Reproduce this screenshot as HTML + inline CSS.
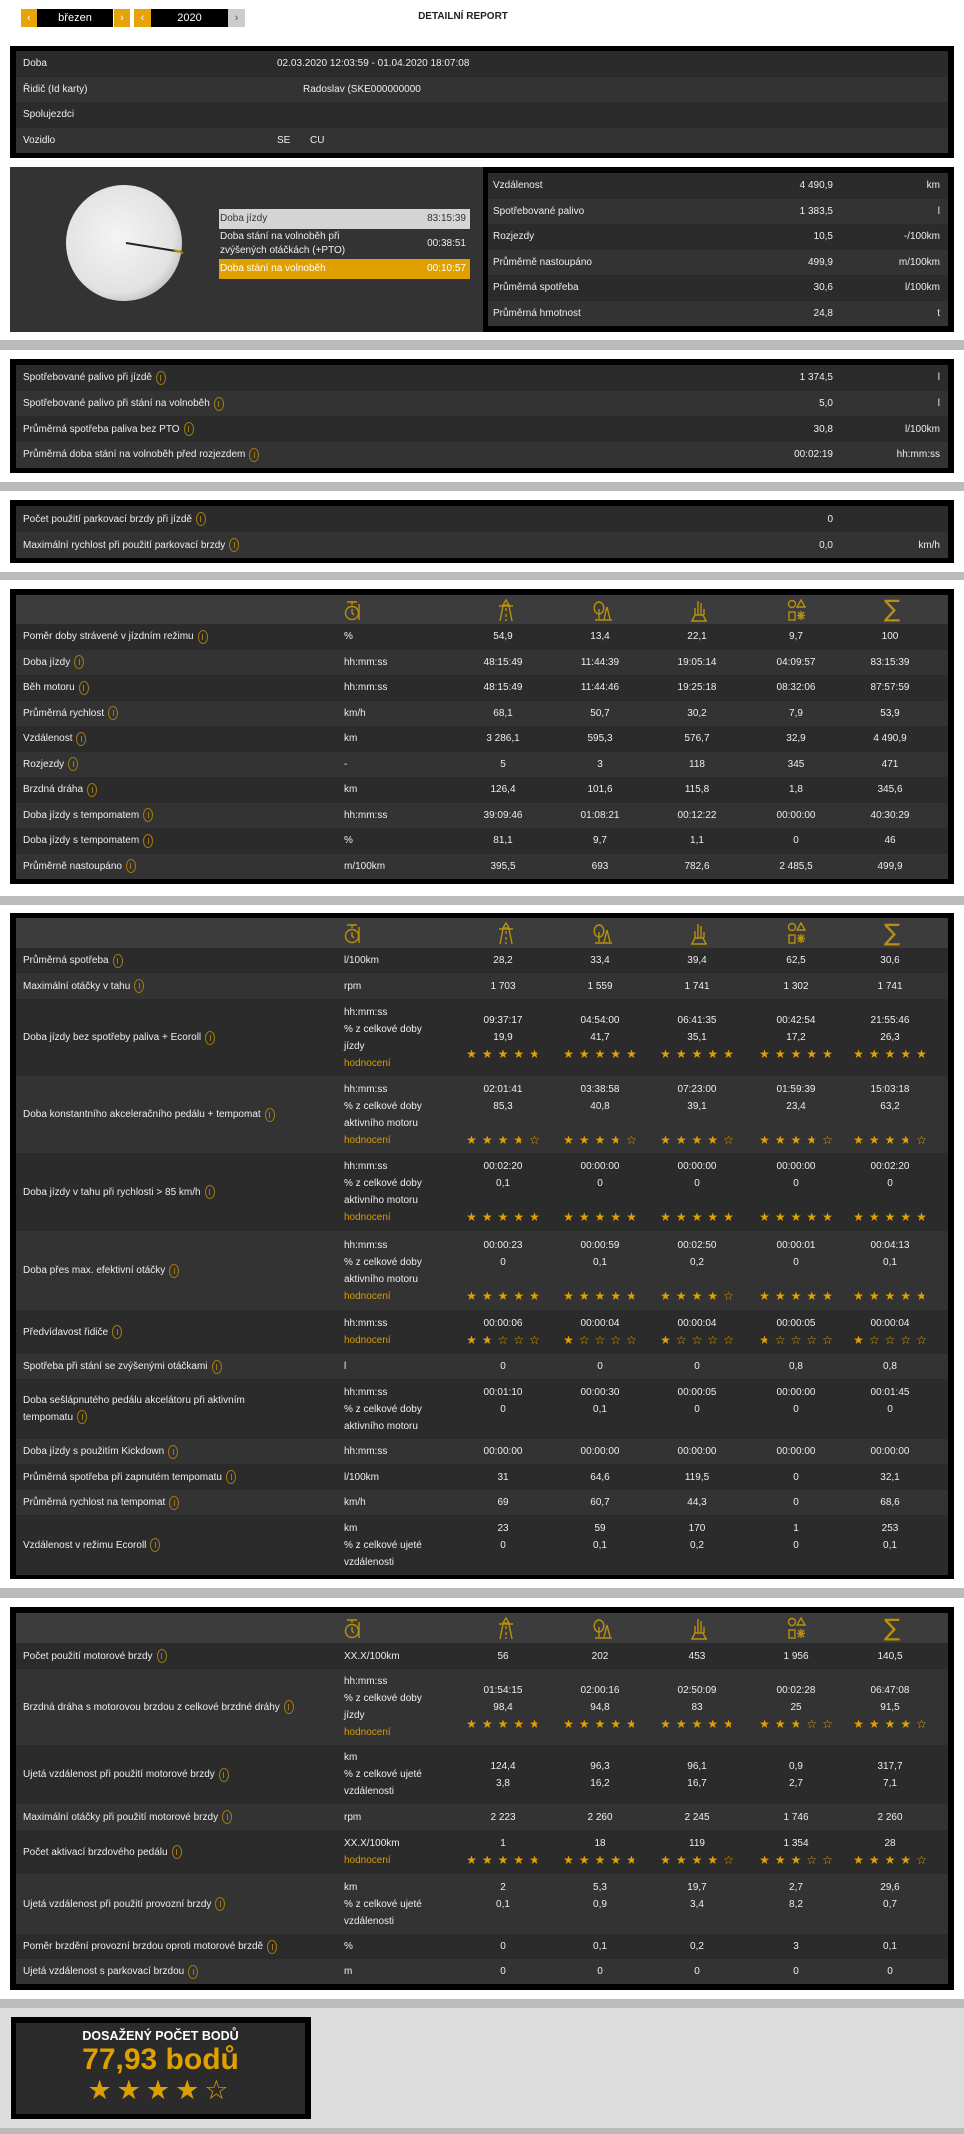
<!DOCTYPE html>
<html><head><meta charset="utf-8">
<style>
body{margin:0;width:964px;height:2134px;position:relative;background:#fff;font-family:"Liberation Sans",sans-serif;font-size:10px;color:#eee;overflow:hidden}
.band{position:absolute;left:0;width:964px;background:#bbb}
.box{position:absolute;left:10px;width:944px;background:#000}
.rows{position:absolute;left:6px;width:932px}
.r{position:relative;background:#2b2b2b;height:25.5px}
.b{background:#333}
.hd{background:#3c3c3c;height:30px}
.c{position:absolute;top:0;bottom:0;display:flex;flex-direction:column;justify-content:center;line-height:17px;white-space:nowrap}
.l{left:7px;flex-direction:row;align-items:center;justify-content:flex-start}
.u{left:328px}
.v{width:90px;align-items:center;text-align:center}
.v1{left:442px}.v2{left:539px}.v3{left:636px}.v4{left:735px}.v5{left:829px}
.rv{right:115px;align-items:flex-end}
.ru{right:8px;align-items:flex-end}
.i{display:inline-block;flex:none;width:8px;height:12px;border:1px solid #a07a10;border-radius:50%;margin-left:4px;vertical-align:middle;position:relative}
.i:after{content:"";position:absolute;left:3.5px;top:3px;width:1px;height:6px;background:#a07a10}
.o{color:#d89c00}
.st{color:#e0a000;font-size:12px;letter-spacing:5px;margin-right:-5px;font-family:"DejaVu Sans",sans-serif}
.h{background:linear-gradient(90deg,#e0a000 50%,#6b5520 50%);-webkit-background-clip:text;background-clip:text;color:transparent}
.ic{position:absolute;top:4px;width:20px;height:24px}
.sel{position:absolute;top:9px;height:18px;line-height:18px;text-align:center;color:#fff;font-size:11px}
</style></head><body>

<div class="sel" style="left:21px;width:16px;background:#e5a50a">‹</div>
<div class="sel" style="left:37px;width:76px;background:#000">březen</div>
<div class="sel" style="left:114px;width:16px;background:#e5a50a">›</div>
<div class="sel" style="left:134px;width:17px;background:#e5a50a">‹</div>
<div class="sel" style="left:151px;width:77px;background:#000">2020</div>
<div class="sel" style="left:228px;width:17px;background:#ccc;color:#555">›</div>
<div style="position:absolute;left:380px;width:166px;top:11px;text-align:center;color:#222;font-weight:bold;font-size:10px">DETAILNÍ REPORT</div>

<div class="box" style="top:46px;height:112px">
 <div class="rows" style="top:5px">
  <div class="r"><div class="c l">Doba</div><div class="c" style="left:261px">02.03.2020 12:03:59 - 01.04.2020 18:07:08</div></div>
  <div class="r b"><div class="c l">Řidič (Id karty)</div><div class="c" style="left:287px">Radoslav (SKE000000000</div></div>
  <div class="r"><div class="c l">Spolujezdci</div></div>
  <div class="r b"><div class="c l">Vozidlo</div><div class="c" style="left:261px">SE</div><div class="c" style="left:294px">CU</div></div>
 </div>
</div>

<div class="box" style="top:167px;height:165px;background:#000">
 <div style="position:absolute;left:0;top:0;width:473px;height:165px;background:#333">
  <svg style="position:absolute;left:54px;top:16px" width="130" height="130">
   <defs><radialGradient id="g" cx="45%" cy="45%" r="60%"><stop offset="0" stop-color="#f4f4f4"/><stop offset="0.8" stop-color="#e2e2e2"/><stop offset="1" stop-color="#bdbdbd"/></radialGradient></defs>
   <circle cx="60" cy="60" r="58" fill="url(#g)"/>
   <line x1="62" y1="60" x2="118" y2="69" stroke="#222" stroke-width="2"/>
   <line x1="110" y1="67" x2="119" y2="70" stroke="#c08a00" stroke-width="2"/>
  </svg>
  <div style="position:absolute;left:209px;top:42px;width:251px;height:20px;background:#d4d4d4;color:#333"><span style="position:absolute;left:1px;top:4px">Doba jízdy</span><span style="position:absolute;right:4px;top:4px">83:15:39</span></div>
  <div style="position:absolute;left:209px;top:62px;width:251px;height:30px;color:#eee;line-height:14px"><span style="position:absolute;left:1px;top:1px">Doba stání na volnoběh při<br>zvýšených otáčkách (+PTO)</span><span style="position:absolute;right:4px;top:8px">00:38:51</span></div>
  <div style="position:absolute;left:209px;top:92px;width:251px;height:20px;background:#e0a100;color:#fff"><span style="position:absolute;left:1px;top:4px">Doba stání na volnoběh</span><span style="position:absolute;right:4px;top:4px">00:10:57</span></div>
 </div>
 <div class="rows" style="left:478px;width:460px;top:6px">
  <div class="r"><div class="c l" style="left:5px">Vzdálenost</div><div class="c rv">4 490,9</div><div class="c ru">km</div></div>
  <div class="r b"><div class="c l" style="left:5px">Spotřebované palivo</div><div class="c rv">1 383,5</div><div class="c ru">l</div></div>
  <div class="r"><div class="c l" style="left:5px">Rozjezdy</div><div class="c rv">10,5</div><div class="c ru">-/100km</div></div>
  <div class="r b"><div class="c l" style="left:5px">Průměrně nastoupáno</div><div class="c rv">499,9</div><div class="c ru">m/100km</div></div>
  <div class="r"><div class="c l" style="left:5px">Průměrná spotřeba</div><div class="c rv">30,6</div><div class="c ru">l/100km</div></div>
  <div class="r b"><div class="c l" style="left:5px">Průměrná hmotnost</div><div class="c rv">24,8</div><div class="c ru">t</div></div>
 </div>
</div>

<div class="band" style="top:340px;height:10px"></div>

<div class="box" style="top:359px;height:114px">
 <div class="rows" style="top:6px">
  <div class="r" style="height:25.7px"><div class="c l">Spotřebované palivo při jízdě<span class="i"></span></div><div class="c rv">1 374,5</div><div class="c ru">l</div></div>
  <div class="r b" style="height:25.7px"><div class="c l">Spotřebované palivo při stání na volnoběh<span class="i"></span></div><div class="c rv">5,0</div><div class="c ru">l</div></div>
  <div class="r" style="height:25.7px"><div class="c l">Průměrná spotřeba paliva bez PTO<span class="i"></span></div><div class="c rv">30,8</div><div class="c ru">l/100km</div></div>
  <div class="r b" style="height:25.7px"><div class="c l">Průměrná doba stání na volnoběh před rozjezdem<span class="i"></span></div><div class="c rv">00:02:19</div><div class="c ru">hh:mm:ss</div></div>
 </div>
</div>

<div class="band" style="top:482px;height:9px"></div>

<div class="box" style="top:500px;height:63px">
 <div class="rows" style="top:6px">
  <div class="r" style="height:26px"><div class="c l">Počet použití parkovací brzdy při jízdě<span class="i"></span></div><div class="c rv">0</div></div>
  <div class="r b" style="height:26px"><div class="c l">Maximální rychlost při použití parkovací brzdy<span class="i"></span></div><div class="c rv">0,0</div><div class="c ru">km/h</div></div>
 </div>
</div>

<div class="band" style="top:572px;height:8px"></div>

<div class="box" style="top:589px;height:295px">
 <div class="rows" style="top:6px">
  <div class="r hd" style="height:29px">
   <svg class="ic" style="left:327px" viewBox="0 0 20 24" fill="none" stroke="#b8900e" stroke-width="1.4"><path d="M4 3h10M9 3v3M16 5v16"/><circle cx="9" cy="14" r="6.5"/><path d="M9 10v4l2 2"/></svg>
   <svg class="ic" style="left:480px" viewBox="0 0 20 24" fill="none" stroke="#b8900e" stroke-width="1.4"><path d="M10 1l-3 5h6z M3 7h14 M7 7L4 22 M13 7l3 15 M10 9v3 M10 15v3 M10 20v2"/></svg>
   <svg class="ic" style="left:577px" viewBox="0 0 20 24" fill="none" stroke="#b8900e" stroke-width="1.4"><path d="M6 3a4 5 0 0 1 0 12a4 5 0 0 1 0-12z M6 10v10 M11 20l3-12 3 12 M2 21h17"/></svg>
   <svg class="ic" style="left:673px" viewBox="0 0 20 24" fill="none" stroke="#b8900e" stroke-width="1.4"><path d="M9 2v14 M12 4v12 M6 9v7 M15 10v6 M3 22l3-6h8l3 6 M2 22h16"/></svg>
   <svg class="ic" style="left:771px" viewBox="0 0 20 24" fill="none" stroke="#b8900e" stroke-width="1.4"><circle cx="5" cy="5" r="3.5"/><path d="M14 1l4 7h-8z"/><rect x="2" y="13" width="6" height="8"/><path d="M14 12v9 M10 16.5h8 M11 13l6 7 M17 13l-6 7"/></svg>
   <div class="c" style="left:868px;font-size:24px;color:#b8900e;font-family:'DejaVu Sans',sans-serif">∑</div>
  </div>
  <div class="r"><div class="c l">Poměr doby strávené v jízdním režimu<span class="i"></span></div><div class="c u">%</div><div class="c v v1">54,9</div><div class="c v v2">13,4</div><div class="c v v3">22,1</div><div class="c v v4">9,7</div><div class="c v v5">100</div></div>
  <div class="r b"><div class="c l">Doba jízdy<span class="i"></span></div><div class="c u">hh:mm:ss</div><div class="c v v1">48:15:49</div><div class="c v v2">11:44:39</div><div class="c v v3">19:05:14</div><div class="c v v4">04:09:57</div><div class="c v v5">83:15:39</div></div>
  <div class="r"><div class="c l">Běh motoru<span class="i"></span></div><div class="c u">hh:mm:ss</div><div class="c v v1">48:15:49</div><div class="c v v2">11:44:46</div><div class="c v v3">19:25:18</div><div class="c v v4">08:32:06</div><div class="c v v5">87:57:59</div></div>
  <div class="r b"><div class="c l">Průměrná rychlost<span class="i"></span></div><div class="c u">km/h</div><div class="c v v1">68,1</div><div class="c v v2">50,7</div><div class="c v v3">30,2</div><div class="c v v4">7,9</div><div class="c v v5">53,9</div></div>
  <div class="r"><div class="c l">Vzdálenost<span class="i"></span></div><div class="c u">km</div><div class="c v v1">3 286,1</div><div class="c v v2">595,3</div><div class="c v v3">576,7</div><div class="c v v4">32,9</div><div class="c v v5">4 490,9</div></div>
  <div class="r b"><div class="c l">Rozjezdy<span class="i"></span></div><div class="c u">-</div><div class="c v v1">5</div><div class="c v v2">3</div><div class="c v v3">118</div><div class="c v v4">345</div><div class="c v v5">471</div></div>
  <div class="r"><div class="c l">Brzdná dráha<span class="i"></span></div><div class="c u">km</div><div class="c v v1">126,4</div><div class="c v v2">101,6</div><div class="c v v3">115,8</div><div class="c v v4">1,8</div><div class="c v v5">345,6</div></div>
  <div class="r b"><div class="c l">Doba jízdy s tempomatem<span class="i"></span></div><div class="c u">hh:mm:ss</div><div class="c v v1">39:09:46</div><div class="c v v2">01:08:21</div><div class="c v v3">00:12:22</div><div class="c v v4">00:00:00</div><div class="c v v5">40:30:29</div></div>
  <div class="r"><div class="c l">Doba jízdy s tempomatem<span class="i"></span></div><div class="c u">%</div><div class="c v v1">81,1</div><div class="c v v2">9,7</div><div class="c v v3">1,1</div><div class="c v v4">0</div><div class="c v v5">46</div></div>
  <div class="r b"><div class="c l">Průměrně nastoupáno<span class="i"></span></div><div class="c u">m/100km</div><div class="c v v1">395,5</div><div class="c v v2">693</div><div class="c v v3">782,6</div><div class="c v v4">2 485,5</div><div class="c v v5">499,9</div></div>
 </div>
</div>

<div class="band" style="top:896px;height:9px"></div>

<div class="box" style="top:913px;height:666px">
 <div class="rows" style="top:5px">
  <div class="r hd">
   <svg class="ic" style="left:327px" viewBox="0 0 20 24" fill="none" stroke="#b8900e" stroke-width="1.4"><path d="M4 3h10M9 3v3M16 5v16"/><circle cx="9" cy="14" r="6.5"/><path d="M9 10v4l2 2"/></svg>
   <svg class="ic" style="left:480px" viewBox="0 0 20 24" fill="none" stroke="#b8900e" stroke-width="1.4"><path d="M10 1l-3 5h6z M3 7h14 M7 7L4 22 M13 7l3 15 M10 9v3 M10 15v3 M10 20v2"/></svg>
   <svg class="ic" style="left:577px" viewBox="0 0 20 24" fill="none" stroke="#b8900e" stroke-width="1.4"><path d="M6 3a4 5 0 0 1 0 12a4 5 0 0 1 0-12z M6 10v10 M11 20l3-12 3 12 M2 21h17"/></svg>
   <svg class="ic" style="left:673px" viewBox="0 0 20 24" fill="none" stroke="#b8900e" stroke-width="1.4"><path d="M9 2v14 M12 4v12 M6 9v7 M15 10v6 M3 22l3-6h8l3 6 M2 22h16"/></svg>
   <svg class="ic" style="left:771px" viewBox="0 0 20 24" fill="none" stroke="#b8900e" stroke-width="1.4"><circle cx="5" cy="5" r="3.5"/><path d="M14 1l4 7h-8z"/><rect x="2" y="13" width="6" height="8"/><path d="M14 12v9 M10 16.5h8 M11 13l6 7 M17 13l-6 7"/></svg>
   <div class="c" style="left:868px;font-size:24px;color:#b8900e;font-family:'DejaVu Sans',sans-serif">∑</div>
  </div>
  <div class="r" style="height:25px"><div class="c l">Průměrná spotřeba<span class="i"></span></div><div class="c u">l/100km</div><div class="c v v1">28,2</div><div class="c v v2">33,4</div><div class="c v v3">39,4</div><div class="c v v4">62,5</div><div class="c v v5">30,6</div></div>
  <div class="r b" style="height:26px"><div class="c l">Maximální otáčky v tahu<span class="i"></span></div><div class="c u">rpm</div><div class="c v v1">1 703</div><div class="c v v2">1 559</div><div class="c v v3">1 741</div><div class="c v v4">1 302</div><div class="c v v5">1 741</div></div>
  <div class="r" style="height:77px"><div class="c l">Doba jízdy bez spotřeby paliva + Ecoroll<span class="i"></span></div><div class="c u"><div>hh:mm:ss</div><div>% z celkové doby</div><div>jízdy</div><div class="o">hodnocení</div></div>
   <div class="c v v1"><div>09:37:17</div><div>19,9</div><div class="st">★★★★<span class="h">★</span></div></div>
   <div class="c v v2"><div>04:54:00</div><div>41,7</div><div class="st">★★★★★</div></div>
   <div class="c v v3"><div>06:41:35</div><div>35,1</div><div class="st">★★★★★</div></div>
   <div class="c v v4"><div>00:42:54</div><div>17,2</div><div class="st">★★★★★</div></div>
   <div class="c v v5"><div>21:55:46</div><div>26,3</div><div class="st">★★★★★</div></div></div>
  <div class="r b" style="height:77px"><div class="c l">Doba konstantního akceleračního pedálu + tempomat<span class="i"></span></div><div class="c u"><div>hh:mm:ss</div><div>% z celkové doby</div><div>aktivního motoru</div><div class="o">hodnocení</div></div>
   <div class="c v v1"><div>02:01:41</div><div>85,3</div><div>&nbsp;</div><div class="st">★★★<span class="h">★</span>☆</div></div>
   <div class="c v v2"><div>03:38:58</div><div>40,8</div><div>&nbsp;</div><div class="st">★★★<span class="h">★</span>☆</div></div>
   <div class="c v v3"><div>07:23:00</div><div>39,1</div><div>&nbsp;</div><div class="st">★★★★☆</div></div>
   <div class="c v v4"><div>01:59:39</div><div>23,4</div><div>&nbsp;</div><div class="st">★★★<span class="h">★</span>☆</div></div>
   <div class="c v v5"><div>15:03:18</div><div>63,2</div><div>&nbsp;</div><div class="st">★★★<span class="h">★</span>☆</div></div></div>
  <div class="r" style="height:78px"><div class="c l">Doba jízdy v tahu při rychlosti &gt; 85 km/h<span class="i"></span></div><div class="c u"><div>hh:mm:ss</div><div>% z celkové doby</div><div>aktivního motoru</div><div class="o">hodnocení</div></div>
   <div class="c v v1"><div>00:02:20</div><div>0,1</div><div>&nbsp;</div><div class="st">★★★★★</div></div>
   <div class="c v v2"><div>00:00:00</div><div>0</div><div>&nbsp;</div><div class="st">★★★★★</div></div>
   <div class="c v v3"><div>00:00:00</div><div>0</div><div>&nbsp;</div><div class="st">★★★★★</div></div>
   <div class="c v v4"><div>00:00:00</div><div>0</div><div>&nbsp;</div><div class="st">★★★★★</div></div>
   <div class="c v v5"><div>00:02:20</div><div>0</div><div>&nbsp;</div><div class="st">★★★★★</div></div></div>
  <div class="r b" style="height:79px"><div class="c l">Doba přes max. efektivní otáčky<span class="i"></span></div><div class="c u"><div>hh:mm:ss</div><div>% z celkové doby</div><div>aktivního motoru</div><div class="o">hodnocení</div></div>
   <div class="c v v1"><div>00:00:23</div><div>0</div><div>&nbsp;</div><div class="st">★★★★★</div></div>
   <div class="c v v2"><div>00:00:59</div><div>0,1</div><div>&nbsp;</div><div class="st">★★★★<span class="h">★</span></div></div>
   <div class="c v v3"><div>00:02:50</div><div>0,2</div><div>&nbsp;</div><div class="st">★★★★☆</div></div>
   <div class="c v v4"><div>00:00:01</div><div>0</div><div>&nbsp;</div><div class="st">★★★★★</div></div>
   <div class="c v v5"><div>00:04:13</div><div>0,1</div><div>&nbsp;</div><div class="st">★★★★<span class="h">★</span></div></div></div>
  <div class="r" style="height:44px"><div class="c l">Předvídavost řidiče<span class="i"></span></div><div class="c u"><div>hh:mm:ss</div><div class="o">hodnocení</div></div>
   <div class="c v v1"><div>00:00:06</div><div class="st">★<span class="h">★</span>☆☆☆</div></div>
   <div class="c v v2"><div>00:00:04</div><div class="st">★☆☆☆☆</div></div>
   <div class="c v v3"><div>00:00:04</div><div class="st">★☆☆☆☆</div></div>
   <div class="c v v4"><div>00:00:05</div><div class="st"><span class="h">★</span>☆☆☆☆</div></div>
   <div class="c v v5"><div>00:00:04</div><div class="st">★☆☆☆☆</div></div></div>
  <div class="r b" style="height:25px"><div class="c l">Spotřeba při stání se zvýšenými otáčkami<span class="i"></span></div><div class="c u">l</div><div class="c v v1">0</div><div class="c v v2">0</div><div class="c v v3">0</div><div class="c v v4">0,8</div><div class="c v v5">0,8</div></div>
  <div class="r" style="height:60px"><div class="c l"><div><div>Doba sešlápnutého pedálu akcelátoru při aktivním</div><div>tempomatu<span class="i"></span></div></div></div><div class="c u"><div>hh:mm:ss</div><div>% z celkové doby</div><div>aktivního motoru</div></div>
   <div class="c v v1"><div>00:01:10</div><div>0</div><div>&nbsp;</div></div>
   <div class="c v v2"><div>00:00:30</div><div>0,1</div><div>&nbsp;</div></div>
   <div class="c v v3"><div>00:00:05</div><div>0</div><div>&nbsp;</div></div>
   <div class="c v v4"><div>00:00:00</div><div>0</div><div>&nbsp;</div></div>
   <div class="c v v5"><div>00:01:45</div><div>0</div><div>&nbsp;</div></div></div>
  <div class="r b" style="height:25px"><div class="c l">Doba jízdy s použitím Kickdown<span class="i"></span></div><div class="c u">hh:mm:ss</div><div class="c v v1">00:00:00</div><div class="c v v2">00:00:00</div><div class="c v v3">00:00:00</div><div class="c v v4">00:00:00</div><div class="c v v5">00:00:00</div></div>
  <div class="r" style="height:26px"><div class="c l">Průměrná spotřeba při zapnutém tempomatu<span class="i"></span></div><div class="c u">l/100km</div><div class="c v v1">31</div><div class="c v v2">64,6</div><div class="c v v3">119,5</div><div class="c v v4">0</div><div class="c v v5">32,1</div></div>
  <div class="r b" style="height:25px"><div class="c l">Průměrná rychlost na tempomat<span class="i"></span></div><div class="c u">km/h</div><div class="c v v1">69</div><div class="c v v2">60,7</div><div class="c v v3">44,3</div><div class="c v v4">0</div><div class="c v v5">68,6</div></div>
  <div class="r" style="height:60px"><div class="c l">Vzdálenost v režimu Ecoroll<span class="i"></span></div><div class="c u"><div>km</div><div>% z celkové ujeté</div><div>vzdálenosti</div></div>
   <div class="c v v1"><div>23</div><div>0</div><div>&nbsp;</div></div>
   <div class="c v v2"><div>59</div><div>0,1</div><div>&nbsp;</div></div>
   <div class="c v v3"><div>170</div><div>0,2</div><div>&nbsp;</div></div>
   <div class="c v v4"><div>1</div><div>0</div><div>&nbsp;</div></div>
   <div class="c v v5"><div>253</div><div>0,1</div><div>&nbsp;</div></div></div>
 </div>
</div>

<div class="band" style="top:1588px;height:10px"></div>

<div class="box" style="top:1607px;height:383px">
 <div class="rows" style="top:6px">
  <div class="r hd">
   <svg class="ic" style="left:327px" viewBox="0 0 20 24" fill="none" stroke="#b8900e" stroke-width="1.4"><path d="M4 3h10M9 3v3M16 5v16"/><circle cx="9" cy="14" r="6.5"/><path d="M9 10v4l2 2"/></svg>
   <svg class="ic" style="left:480px" viewBox="0 0 20 24" fill="none" stroke="#b8900e" stroke-width="1.4"><path d="M10 1l-3 5h6z M3 7h14 M7 7L4 22 M13 7l3 15 M10 9v3 M10 15v3 M10 20v2"/></svg>
   <svg class="ic" style="left:577px" viewBox="0 0 20 24" fill="none" stroke="#b8900e" stroke-width="1.4"><path d="M6 3a4 5 0 0 1 0 12a4 5 0 0 1 0-12z M6 10v10 M11 20l3-12 3 12 M2 21h17"/></svg>
   <svg class="ic" style="left:673px" viewBox="0 0 20 24" fill="none" stroke="#b8900e" stroke-width="1.4"><path d="M9 2v14 M12 4v12 M6 9v7 M15 10v6 M3 22l3-6h8l3 6 M2 22h16"/></svg>
   <svg class="ic" style="left:771px" viewBox="0 0 20 24" fill="none" stroke="#b8900e" stroke-width="1.4"><circle cx="5" cy="5" r="3.5"/><path d="M14 1l4 7h-8z"/><rect x="2" y="13" width="6" height="8"/><path d="M14 12v9 M10 16.5h8 M11 13l6 7 M17 13l-6 7"/></svg>
   <div class="c" style="left:868px;font-size:24px;color:#b8900e;font-family:'DejaVu Sans',sans-serif">∑</div>
  </div>
  <div class="r" style="height:26px"><div class="c l">Počet použití motorové brzdy<span class="i"></span></div><div class="c u">XX.X/100km</div><div class="c v v1">56</div><div class="c v v2">202</div><div class="c v v3">453</div><div class="c v v4">1 956</div><div class="c v v5">140,5</div></div>
  <div class="r b" style="height:76px"><div class="c l">Brzdná dráha s motorovou brzdou z celkové brzdné dráhy<span class="i"></span></div><div class="c u"><div>hh:mm:ss</div><div>% z celkové doby</div><div>jízdy</div><div class="o">hodnocení</div></div>
   <div class="c v v1"><div>01:54:15</div><div>98,4</div><div class="st">★★★★<span class="h">★</span></div></div>
   <div class="c v v2"><div>02:00:16</div><div>94,8</div><div class="st">★★★★<span class="h">★</span></div></div>
   <div class="c v v3"><div>02:50:09</div><div>83</div><div class="st">★★★★<span class="h">★</span></div></div>
   <div class="c v v4"><div>00:02:28</div><div>25</div><div class="st">★★<span class="h">★</span>☆☆</div></div>
   <div class="c v v5"><div>06:47:08</div><div>91,5</div><div class="st">★★★★☆</div></div></div>
  <div class="r" style="height:59px"><div class="c l">Ujetá vzdálenost při použití motorové brzdy<span class="i"></span></div><div class="c u"><div>km</div><div>% z celkové ujeté</div><div>vzdálenosti</div></div>
   <div class="c v v1"><div>124,4</div><div>3,8</div></div>
   <div class="c v v2"><div>96,3</div><div>16,2</div></div>
   <div class="c v v3"><div>96,1</div><div>16,7</div></div>
   <div class="c v v4"><div>0,9</div><div>2,7</div></div>
   <div class="c v v5"><div>317,7</div><div>7,1</div></div></div>
  <div class="r b" style="height:26px"><div class="c l">Maximální otáčky při použití motorové brzdy<span class="i"></span></div><div class="c u">rpm</div><div class="c v v1">2 223</div><div class="c v v2">2 260</div><div class="c v v3">2 245</div><div class="c v v4">1 746</div><div class="c v v5">2 260</div></div>
  <div class="r" style="height:44px"><div class="c l">Počet aktivací brzdového pedálu<span class="i"></span></div><div class="c u"><div>XX.X/100km</div><div class="o">hodnocení</div></div>
   <div class="c v v1"><div>1</div><div class="st">★★★★<span class="h">★</span></div></div>
   <div class="c v v2"><div>18</div><div class="st">★★★★<span class="h">★</span></div></div>
   <div class="c v v3"><div>119</div><div class="st">★★★★☆</div></div>
   <div class="c v v4"><div>1 354</div><div class="st">★★★☆☆</div></div>
   <div class="c v v5"><div>28</div><div class="st">★★★★☆</div></div></div>
  <div class="r b" style="height:60px"><div class="c l">Ujetá vzdálenost při použití provozní brzdy<span class="i"></span></div><div class="c u"><div>km</div><div>% z celkové ujeté</div><div>vzdálenosti</div></div>
   <div class="c v v1"><div>2</div><div>0,1</div><div>&nbsp;</div></div>
   <div class="c v v2"><div>5,3</div><div>0,9</div><div>&nbsp;</div></div>
   <div class="c v v3"><div>19,7</div><div>3,4</div><div>&nbsp;</div></div>
   <div class="c v v4"><div>2,7</div><div>8,2</div><div>&nbsp;</div></div>
   <div class="c v v5"><div>29,6</div><div>0,7</div><div>&nbsp;</div></div></div>
  <div class="r" style="height:25px"><div class="c l">Poměr brzdění provozní brzdou oproti motorové brzdě<span class="i"></span></div><div class="c u">%</div><div class="c v v1">0</div><div class="c v v2">0,1</div><div class="c v v3">0,2</div><div class="c v v4">3</div><div class="c v v5">0,1</div></div>
  <div class="r b" style="height:25px"><div class="c l">Ujetá vzdálenost s parkovací brzdou<span class="i"></span></div><div class="c u">m</div><div class="c v v1">0</div><div class="c v v2">0</div><div class="c v v3">0</div><div class="c v v4">0</div><div class="c v v5">0</div></div>
 </div>
</div>

<div class="band" style="top:1999px;height:9px"></div>
<div style="position:absolute;left:0;top:2008px;width:964px;height:120px;background:#dcdcdc"></div>
<div class="band" style="top:2128px;height:6px"></div>

<div style="position:absolute;left:11px;top:2017px;width:300px;height:102px;background:#000">
 <div style="position:absolute;left:5px;top:6px;width:289px;height:91px;background:#2b2b2b;text-align:center">
  <div style="position:absolute;left:0;width:289px;top:6px;font-weight:bold;font-size:12.5px;color:#fff">DOSAŽENÝ POČET BODŮ</div>
  <div style="position:absolute;left:0;width:289px;top:19px;font-weight:bold;font-size:30px;color:#e0a000;line-height:36px">77,93 bodů</div>
  <div style="position:absolute;left:0;width:289px;top:52px;font-size:27px;color:#d9a000;letter-spacing:5px;font-family:'DejaVu Sans',sans-serif;line-height:32px">★★★★☆</div>
 </div>
</div>

</body></html>
